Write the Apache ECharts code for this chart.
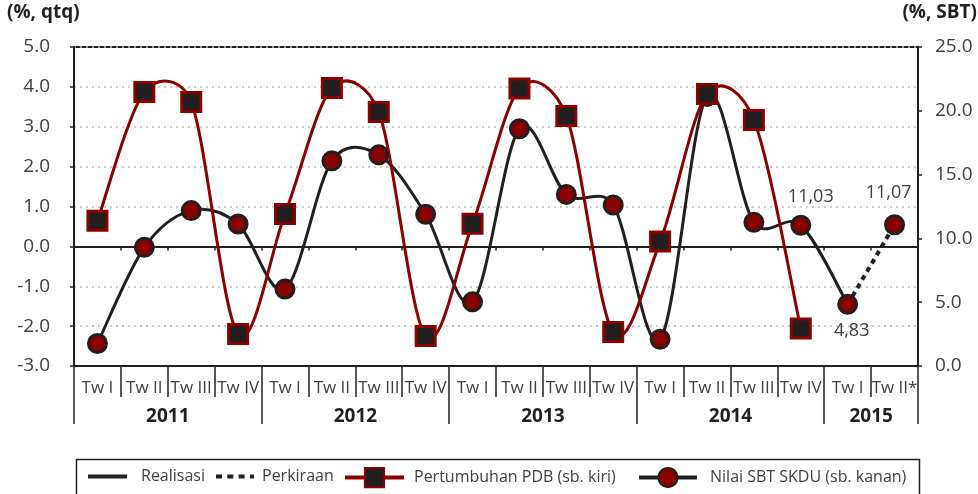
<!DOCTYPE html>
<html>
<head>
<meta charset="utf-8">
<script src="https://cdn.jsdelivr.net/npm/echarts@6/dist/echarts.min.js"></script>
<style>
  html, body { margin: 0; padding: 0; background: #fff; }
  #chart { width: 978px; height: 494px; }
</style>
</head>
<body>
<div id="chart"></div>
<script>
// kategori triwulan dan tahun
var quarters = ['Tw I', 'Tw II', 'Tw III', 'Tw IV', 'Tw I', 'Tw II', 'Tw III', 'Tw IV',
  'Tw I', 'Tw II', 'Tw III', 'Tw IV', 'Tw I', 'Tw II', 'Tw III', 'Tw IV', 'Tw I', 'Tw II*']
var years = ['2011', '2012', '2013', '2014', '2015']
var quartersPerYear = [4, 4, 4, 4, 2]

// Pertumbuhan PDB (sb. kiri), % qtq
var pdbGrowth = [0.64, 3.87, 3.62, -2.2, 0.81, 3.97, 3.37, -2.25,
  0.57, 3.96, 3.27, -2.15, 0.12, 3.82, 3.17, -2.06, null, null]
// Nilai SBT SKDU (sb. kanan) - realisasi
var sbtActual = [1.76, 9.3, 12.18, 11.13, 6.03, 16.08, 16.55, 11.89,
  5.03, 18.59, 13.45, 12.62, 2.1, 21.13, 11.26, 11.03, 4.83, null]
// Nilai SBT SKDU - perkiraan
var sbtForecast = [null, null, null, null, null, null, null, null,
  null, null, null, null, null, null, null, null, 4.83, 11.07]

var fontFamily = '"Open Sans", sans-serif'
var textColor = '#404040'
var darkColor = '#231f20'
var redColor = '#8b0000'
var gridColor = '#bdbdbd'

// posisi label tahun & garis pemisah tahun
var yearOfCat = []
var yearStart = {}
var yearLabelAt = {}
var pos = 0
years.forEach(function (y, i) {
  yearStart[pos] = true
  yearLabelAt[pos + quartersPerYear[i] / 2 - 1] = true
  for (var k = 0; k < quartersPerYear[i]; k++) yearOfCat.push(y)
  pos += quartersPerYear[i]
})

function fmtComma(p) {
  return p.value.toFixed(2).replace('.', ',')
}

var lastActual = 16
var sbtActualData = sbtActual.map(function (v, i) {
  if (i === lastActual - 1) return { value: v, label: { show: true, position: 'top', offset: [10, -4] } }
  if (i === lastActual) return { value: v, label: { show: true, position: 'bottom', offset: [4, 2] } }
  return v
})
var sbtForecastPoint = sbtForecast.map(function (v, i) {
  if (i === sbtForecast.length - 1) return { value: v, label: { show: true, position: 'top', offset: [-6, -7] } }
  return null
})

// garis halus ala Excel: segmen bezier, tangen searah (titik berikut - titik sebelumnya)
function dist(a, b) {
  var dx = b[0] - a[0]
  var dy = b[1] - a[1]
  return Math.sqrt(dx * dx + dy * dy)
}
function handle(p, from, to, segLen) {
  var d = dist(from, to) || 1
  var len = Math.min(d / 6, segLen * 0.5)
  return [p[0] + (to[0] - from[0]) / d * len, p[1] + (to[1] - from[1]) / d * len]
}
function smoothLine(values, color) {
  return function (params, api) {
    var i = params.dataIndex
    var n = values.length
    if (values[i] == null || i + 1 >= n || values[i + 1] == null) return null
    var p1 = api.coord([i, values[i]])
    var p2 = api.coord([i + 1, values[i + 1]])
    var p0 = (i > 0 && values[i - 1] != null) ? api.coord([i - 1, values[i - 1]]) : p1
    var p3 = (i + 2 < n && values[i + 2] != null) ? api.coord([i + 2, values[i + 2]]) : p2
    var segLen = dist(p1, p2)
    var c1 = handle(p1, p0, p2, segLen)
    var c2 = handle(p2, p3, p1, segLen)
    return {
      type: 'bezierCurve',
      shape: { x1: p1[0], y1: p1[1], x2: p2[0], y2: p2[1], cpx1: c1[0], cpy1: c1[1], cpx2: c2[0], cpy2: c2[1] },
      style: { stroke: color, lineWidth: 3, fill: null }
    }
  }
}
function pairs(values) {
  return values.map(function (v, i) { return [i, v] })
}

var myChart = echarts.init(document.getElementById('chart'))

var legendText = { color: textColor, fontSize: 16, fontFamily: fontFamily }
function oneLegend(name, left, width, padLeft) {
  return {
    data: [name], left: left, top: 467, padding: 0,
    itemWidth: width, itemHeight: 24, selectedMode: false,
    lineStyle: { width: 4, opacity: 1 },
    textStyle: Object.assign({ padding: [0, 0, 0, padLeft] }, legendText)
  }
}
var legends = [
  oneLegend('Realisasi', 86, 39, 9),
  oneLegend('Perkiraan', 214, 38, 3),
  oneLegend('Pertumbuhan PDB (sb. kiri)', 343, 59, 5),
  oneLegend('Nilai SBT SKDU (sb. kanan)', 637, 58, 8)
]
legends[1].lineStyle = { type: [6, 5.3], width: 4, opacity: 1 }

var option = {
  animation: false,
  textStyle: { fontFamily: fontFamily },
  title: [
    { text: '(%, qtq)', left: 7, top: 3, padding: 0,
      textStyle: { fontSize: 19, fontWeight: 'bold', color: darkColor, fontFamily: fontFamily } },
    { text: '(%, SBT)', right: 1, top: 3, padding: 0,
      textStyle: { fontSize: 19, fontWeight: 'bold', color: darkColor, fontFamily: fontFamily } }
  ],
  legend: legends,
  graphic: [{
    type: 'rect', left: 74, top: 457, silent: true,
    shape: { width: 843, height: 60 },
    style: { fill: 'none', stroke: darkColor, lineWidth: 1.5 }
  }],
  grid: {
    left: 74, right: 60, top: 47, bottom: 128,
    show: true, borderColor: darkColor, borderWidth: 2
  },
  xAxis: [
    {
      type: 'category', data: quarters, position: 'bottom',
      axisLine: { onZero: true, onZeroAxisIndex: 0, lineStyle: { color: darkColor, width: 2 } },
      axisTick: { show: true, interval: 0, length: 4, lineStyle: { color: darkColor, width: 1.5 } },
      axisLabel: { show: false },
      splitLine: { show: false }
    },
    {
      type: 'category', data: quarters, position: 'bottom',
      axisLine: { onZero: false, lineStyle: { color: darkColor, width: 2 } },
      axisTick: { show: true, interval: 0, length: 31, lineStyle: { color: darkColor, width: 1.5 } },
      axisLabel: { interval: 0, margin: 14, color: textColor, fontSize: 17, fontFamily: fontFamily },
      splitLine: { show: false }
    },
    {
      type: 'category', data: quarters, position: 'bottom',
      axisLine: { show: false, onZero: false },
      axisTick: {
        show: true, length: 58, lineStyle: { color: darkColor, width: 1.5 },
        interval: function (i) { return !!yearStart[i] }
      },
      axisLabel: {
        interval: function (i) { return !!yearLabelAt[i] },
        formatter: function (v, i) { return yearOfCat[i] },
        margin: 41, padding: [0, 0, 0, 47],
        color: darkColor, fontSize: 19, fontWeight: 'bold', fontFamily: fontFamily
      },
      splitLine: { show: false }
    }
  ],
  yAxis: [
    {
      type: 'value', min: -3, max: 5, interval: 1, position: 'left',
      axisLine: { show: true, lineStyle: { color: darkColor, width: 2 } },
      axisTick: { show: true, length: 4, lineStyle: { color: darkColor, width: 1.5 } },
      axisLabel: {
        formatter: function (v) { return v.toFixed(1) },
        margin: 24, color: textColor, fontSize: 19, fontFamily: fontFamily
      },
      splitLine: { show: true, lineStyle: { color: gridColor, type: [2, 4], width: 1.5 } }
    },
    {
      type: 'value', min: 0, max: 25, interval: 5, position: 'right',
      axisLine: { show: true, lineStyle: { color: darkColor, width: 2 } },
      axisTick: { show: true, length: 4, lineStyle: { color: darkColor, width: 1.5 } },
      axisLabel: {
        formatter: function (v) { return v.toFixed(1) },
        margin: 17, color: textColor, fontSize: 19, fontFamily: fontFamily
      },
      splitLine: { show: false }
    }
  ],
  series: [
    {
      name: 'Realisasi', type: 'line', data: [], symbol: 'none',
      lineStyle: { color: darkColor, width: 4 },
      itemStyle: { color: 'rgba(0,0,0,0)' }
    },
    {
      name: 'Perkiraan', type: 'line', yAxisIndex: 1, data: sbtForecast, symbol: 'none',
      lineStyle: { color: darkColor, width: 4, type: [5, 4.5] },
      itemStyle: { color: 'rgba(0,0,0,0)' }
    },
    {
      name: 'SBT garis', type: 'custom', yAxisIndex: 1, silent: true,
      data: pairs(sbtActual), renderItem: smoothLine(sbtActual, darkColor)
    },
    {
      name: 'Nilai SBT SKDU (sb. kanan)', type: 'line', yAxisIndex: 1, data: sbtActualData,
      symbol: 'circle', symbolSize: 18,
      lineStyle: { color: darkColor, width: 3, opacity: 0 },
      itemStyle: { color: redColor, borderColor: darkColor, borderWidth: 3 },
      label: { formatter: fmtComma, color: textColor, fontSize: 18, fontFamily: fontFamily }
    },
    {
      name: 'SBT perkiraan titik', type: 'line', yAxisIndex: 1, data: sbtForecastPoint,
      symbol: 'circle', symbolSize: 18,
      lineStyle: { opacity: 0 },
      itemStyle: { color: redColor, borderColor: darkColor, borderWidth: 3 },
      label: { formatter: fmtComma, color: textColor, fontSize: 18, fontFamily: fontFamily }
    },
    {
      name: 'PDB garis', type: 'custom', silent: true,
      data: pairs(pdbGrowth), renderItem: smoothLine(pdbGrowth, redColor)
    },
    {
      name: 'Pertumbuhan PDB (sb. kiri)', type: 'line', data: pdbGrowth,
      symbol: 'rect', symbolSize: 19,
      lineStyle: { color: redColor, width: 3, opacity: 0 },
      itemStyle: { color: darkColor, borderColor: redColor, borderWidth: 3 }
    }
  ]
}

myChart.setOption(option)
</script>
</body>
</html>
